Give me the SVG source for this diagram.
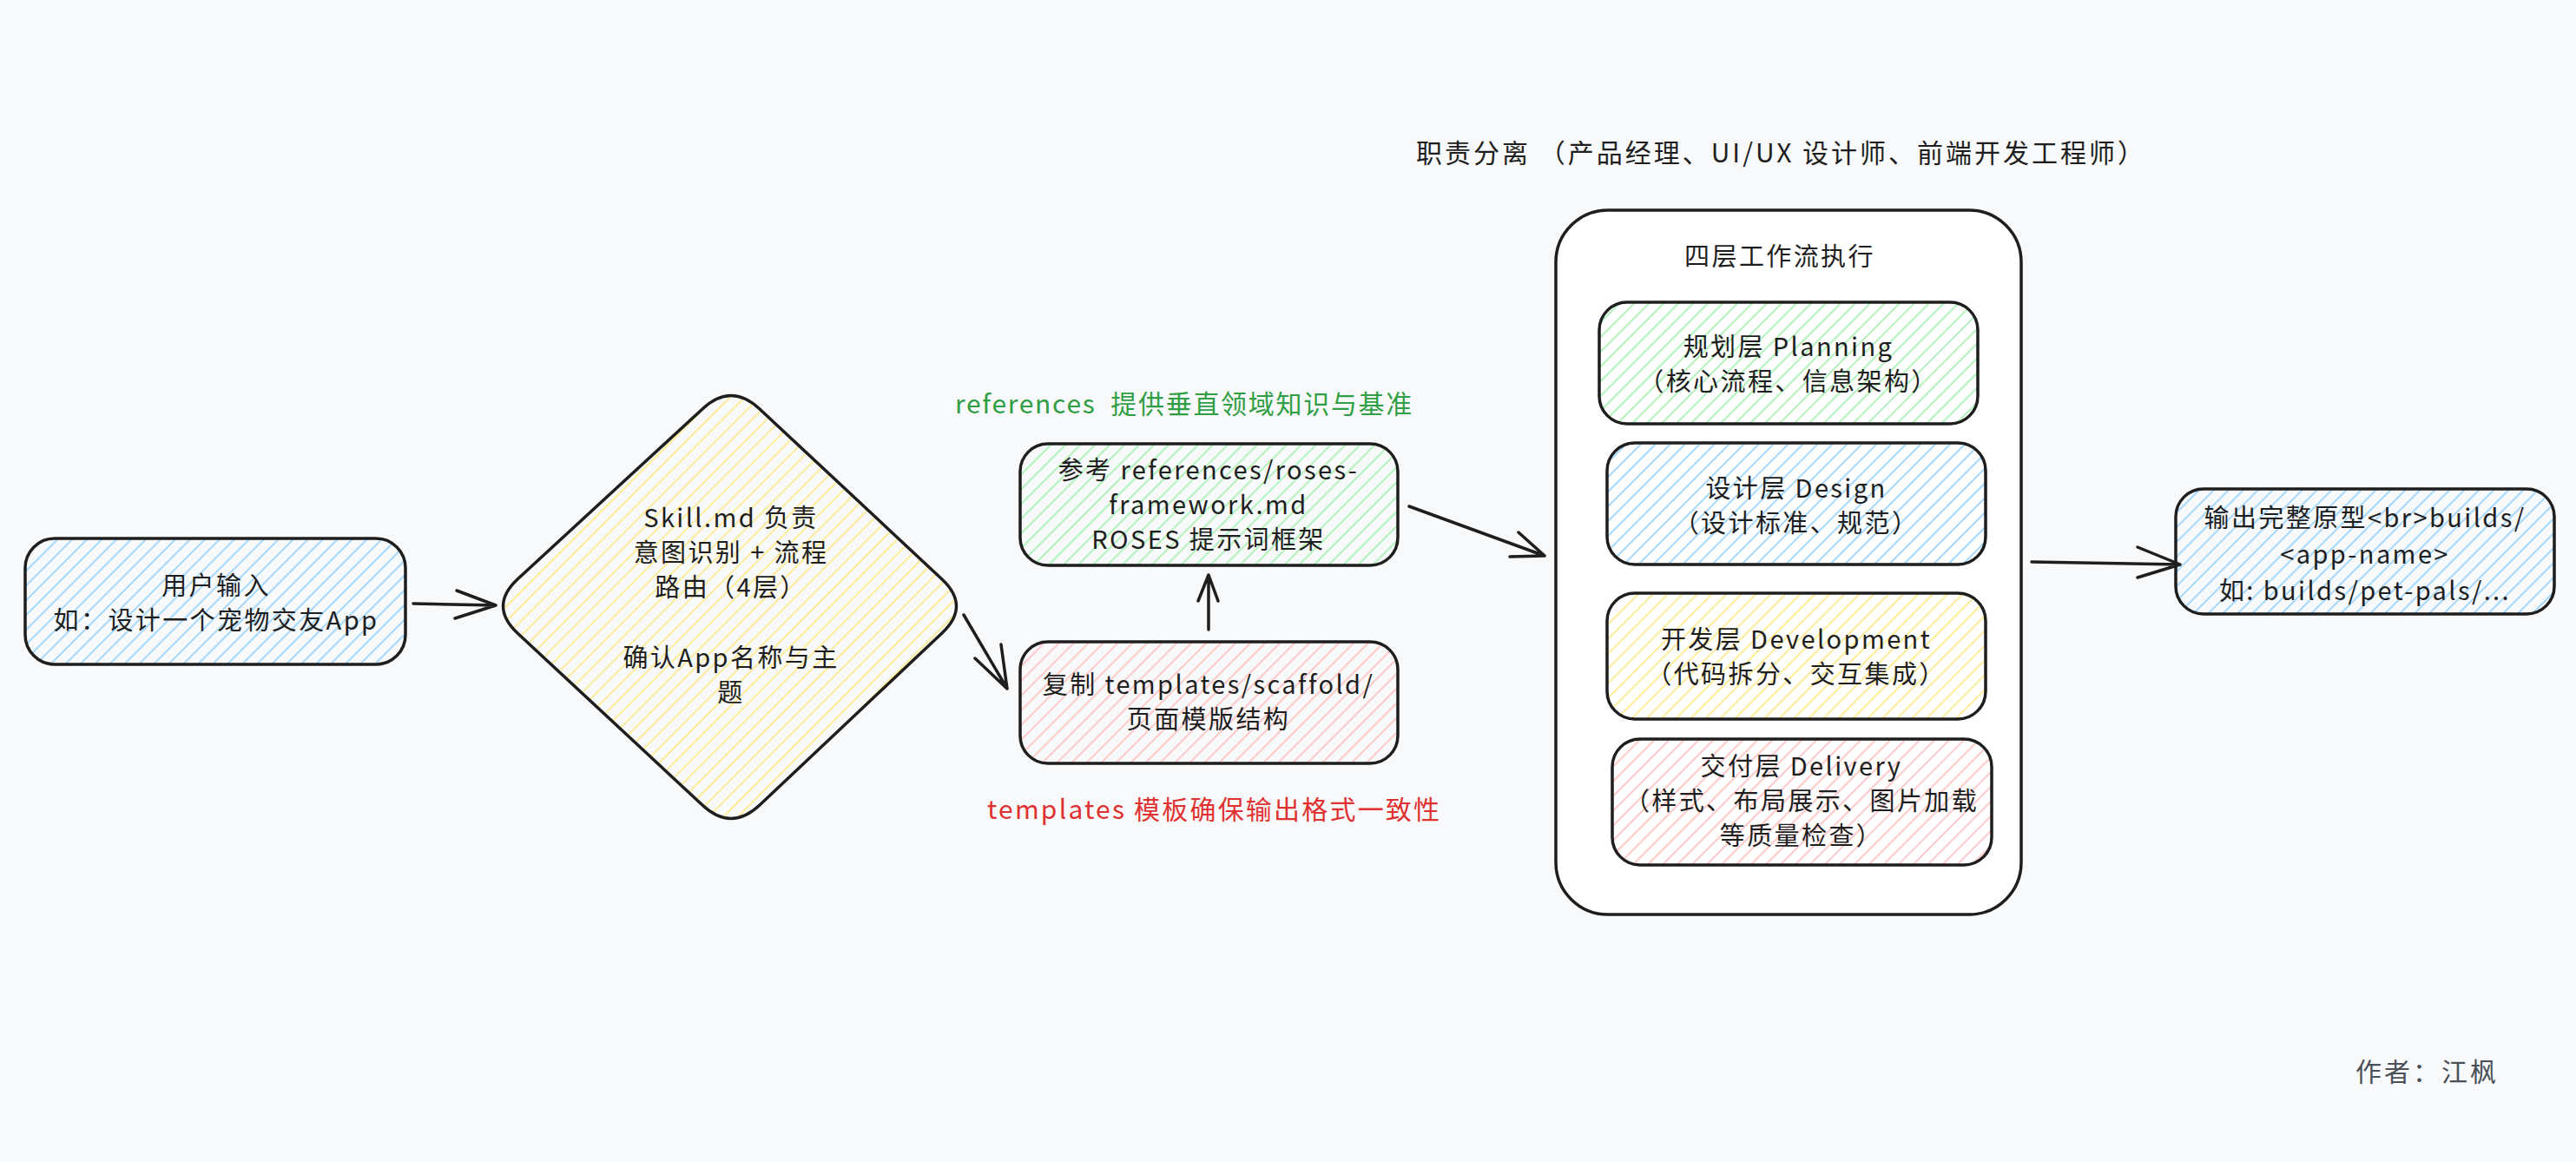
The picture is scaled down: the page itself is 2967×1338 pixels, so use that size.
<svg xmlns="http://www.w3.org/2000/svg" width="2967" height="1338" viewBox="0 0 2967 1338">
<defs>
<pattern id="hBlue" patternUnits="userSpaceOnUse" width="12" height="12" patternTransform="rotate(45)"><line x1="6" y1="0" x2="6" y2="12" stroke="#a5d8ff" stroke-width="2"/></pattern>
<pattern id="hYellow" patternUnits="userSpaceOnUse" width="12" height="12" patternTransform="rotate(45)"><line x1="6" y1="0" x2="6" y2="12" stroke="#ffec99" stroke-width="2"/></pattern>
<pattern id="hGreen" patternUnits="userSpaceOnUse" width="12" height="12" patternTransform="rotate(45)"><line x1="6" y1="0" x2="6" y2="12" stroke="#b2f2bb" stroke-width="2"/></pattern>
<pattern id="hRed" patternUnits="userSpaceOnUse" width="12" height="12" patternTransform="rotate(45)"><line x1="6" y1="0" x2="6" y2="12" stroke="#ffc9c9" stroke-width="2"/></pattern>
</defs>
<style>
.box{stroke:#1e1e1e;stroke-width:3.5;}
.t{font-family:"Noto Sans CJK SC","Noto Sans",sans-serif;font-size:29px;letter-spacing:2.4px;fill:#1e1e1e;text-anchor:middle;dominant-baseline:central;}
.l{font-family:"Noto Sans CJK SC","Noto Sans",sans-serif;font-size:30px;letter-spacing:3px;dominant-baseline:central;white-space:pre;}
.edge{fill:none;stroke:#1e1e1e;stroke-width:3.5;stroke-linecap:round;stroke-linejoin:round;}
</style>
<rect x="0" y="0" width="2967" height="1338" fill="#f8f9fa"/>

<g id="label-roles"><text class="l" x="1631" y="174" fill="#1e1e1e">职责分离 （产品经理、UI/UX 设计师、前端开发工程师）</text></g>
<g id="label-references"><text class="l" x="1100" y="463" fill="#2f9e44" style="letter-spacing:1.7px">references  提供垂直领域知识与基准</text></g>
<g id="label-templates"><text class="l" x="1137" y="930" fill="#e03131" style="letter-spacing:2.2px">templates 模板确保输出格式一致性</text></g>
<g id="label-author"><text class="l" x="2713" y="1232" fill="#495057">作者：江枫</text></g>

<g id="user-input">
<rect class="box" x="29" y="620" width="438" height="145" rx="34" fill="url(#hBlue)"/>
<text class="t" x="249" y="672">用户输入</text>
<text class="t" x="249" y="712">如：设计一个宠物交友App</text>
</g>

<g id="skill">
<path class="box" fill="url(#hYellow)" d="M809,471 Q842,440 875,471 L1085,667 Q1118,698 1085,729 L875,927 Q842,958 809,927 L596,729 Q563,698 596,667 Z"/>
<text class="t" x="842" y="594">Skill.md 负责</text>
<text class="t" x="842" y="634">意图识别 + 流程</text>
<text class="t" x="842" y="674">路由（4层）</text>
<text class="t" x="842" y="755">确认App名称与主</text>
<text class="t" x="842" y="795">题</text>
</g>

<g id="references">
<rect class="box" x="1175" y="511" width="435" height="140" rx="32" fill="url(#hGreen)"/>
<text class="t" x="1392" y="539">参考 references/roses-</text>
<text class="t" x="1392" y="579">framework.md</text>
<text class="t" x="1392" y="619">ROSES 提示词框架</text>
</g>

<g id="templates">
<rect class="box" x="1175" y="739" width="435" height="140" rx="32" fill="url(#hRed)"/>
<text class="t" x="1392" y="786">复制 templates/scaffold/</text>
<text class="t" x="1392" y="826">页面模版结构</text>
</g>

<g id="workflow">
<rect class="box" x="1792" y="242" width="536" height="811" rx="60" fill="#ffffff"/>
<text class="t" x="2050" y="293">四层工作流执行</text>
</g>

<g id="planning">
<rect class="box" x="1842" y="348" width="436" height="140" rx="32" fill="url(#hGreen)"/>
<text class="t" x="2060" y="397">规划层 Planning</text>
<text class="t" x="2060" y="437">（核心流程、信息架构）</text>
</g>

<g id="design">
<rect class="box" x="1851" y="510" width="436" height="140" rx="32" fill="url(#hBlue)"/>
<text class="t" x="2069" y="560">设计层 Design</text>
<text class="t" x="2069" y="600">（设计标准、规范）</text>
</g>

<g id="development">
<rect class="box" x="1851" y="683" width="436" height="145" rx="32" fill="url(#hYellow)"/>
<text class="t" x="2069" y="734">开发层 Development</text>
<text class="t" x="2069" y="774">（代码拆分、交互集成）</text>
</g>

<g id="delivery">
<rect class="box" x="1857" y="851" width="437" height="145" rx="32" fill="url(#hRed)"/>
<text class="t" x="2075" y="880">交付层 Delivery</text>
<text class="t" x="2075" y="920">（样式、布局展示、图片加载</text>
<text class="t" x="2075" y="960">等质量检查）</text>
</g>

<g id="output">
<rect class="box" x="2506" y="563" width="436" height="144" rx="32" fill="url(#hBlue)"/>
<text class="t" x="2724" y="594">输出完整原型&lt;br&gt;builds/</text>
<text class="t" x="2724" y="636">&lt;app-name&gt;</text>
<text class="t" x="2724" y="678">如: builds/pet-pals/...</text>
</g>

<g id="connectors">
<path class="edge" d="M476,695 L571,697 M526,680 L571,697 L524,712"/>
<path class="edge" d="M1110,708 L1160,793 M1123,758 L1160,793 L1153,742"/>
<path class="edge" d="M1392,725 L1392,662 M1380,692 L1392,662 L1403,692"/>
<path class="edge" d="M1623,583 L1779,640 M1749,613 L1779,640 L1739,641"/>
<path class="edge" d="M2340,647 L2511,650 M2462,630 L2511,650 L2462,665"/>
</g>
</svg>
